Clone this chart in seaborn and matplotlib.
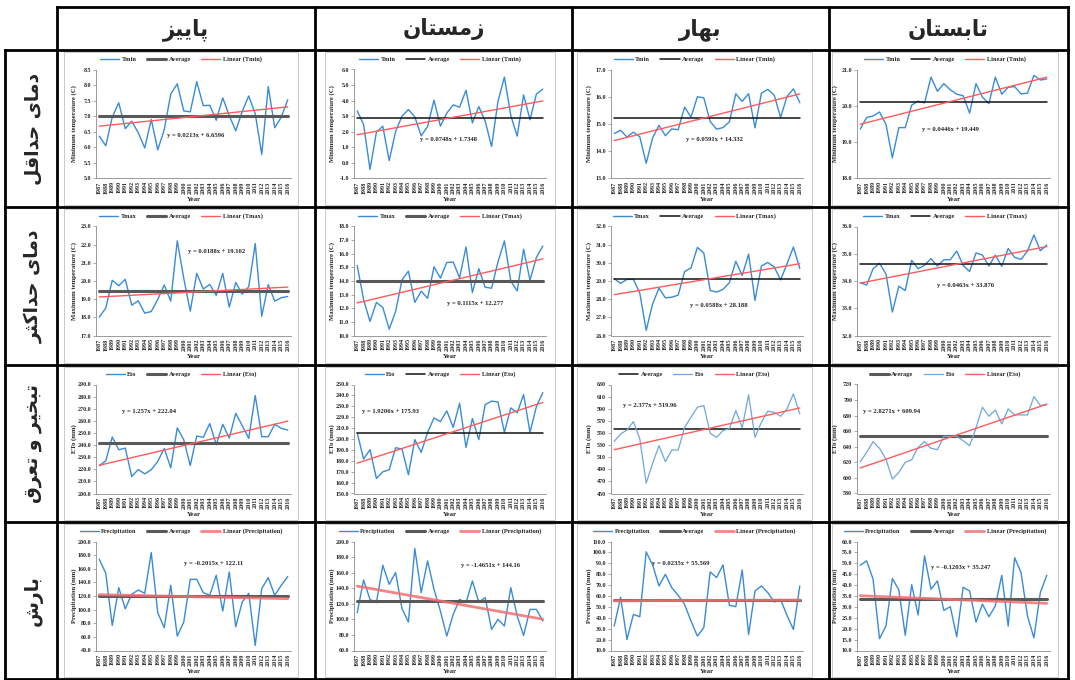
import numpy as np
import pandas as pd
import matplotlib
matplotlib.use("Agg")
import matplotlib.pyplot as plt
from matplotlib.lines import Line2D
from matplotlib.patches import Rectangle
from matplotlib.ticker import FormatStrFormatter
import seaborn as sns

# ---------------------------------------------------------------- data
YEARS = list(range(1987, 2017))

SEASONS = ["پاییز", "زمستان", "بهار", "تابستان"]
VARIABLES = ["دمای حداقل", "دمای حداکثر", "تبخیر و تعرق", "بارش"]

tmin_autumn = [6.36, 6.05, 6.97, 7.43, 6.60, 6.84, 6.47, 5.98, 6.90, 5.92,
               6.57, 7.71, 8.04, 7.17, 7.14, 8.11, 7.34, 7.35, 6.87, 7.59,
               7.02, 6.53, 7.16, 7.65, 7.08, 5.77, 7.95, 6.63, 6.97, 7.53]
tmin_winter = [3.34, 2.47, -0.42, 1.97, 2.36, 0.15, 2.02, 3.00, 3.43, 2.96,
               1.74, 2.34, 4.03, 2.36, 3.20, 3.73, 3.58, 4.67, 2.57, 3.62,
               2.68, 1.05, 3.97, 5.51, 3.04, 1.72, 4.37, 2.77, 4.42, 4.74]
tmin_spring = [14.65, 14.77, 14.52, 14.70, 14.53, 13.56, 14.49, 14.95, 14.57, 14.82,
               14.79, 15.62, 15.25, 16.00, 15.96, 15.09, 14.81, 14.87, 15.08, 16.11,
               15.83, 16.11, 14.86, 16.13, 16.27, 16.06, 15.24, 16.01, 16.29, 15.78]
tmin_summer = [19.36, 19.68, 19.72, 19.83, 19.49, 18.57, 19.40, 19.40, 20.02, 20.13,
               20.08, 20.79, 20.40, 20.61, 20.44, 20.32, 20.28, 19.80, 20.61, 20.24,
               20.06, 20.79, 20.32, 20.51, 20.53, 20.33, 20.35, 20.84, 20.71, 20.74]

tmax_autumn = [18.01, 18.51, 20.04, 19.74, 20.09, 18.67, 18.91, 18.23, 18.32, 18.99,
               19.78, 18.89, 22.21, 20.15, 18.34, 20.42, 19.56, 19.81, 19.21, 20.42,
               18.56, 19.92, 19.28, 19.69, 22.06, 18.06, 19.80, 18.89, 19.08, 19.15]
tmax_winter = [15.14, 12.63, 11.03, 12.43, 12.06, 10.46, 11.77, 14.08, 14.72, 12.43,
               13.25, 12.73, 15.04, 14.21, 15.36, 15.39, 14.23, 16.50, 13.15, 14.90,
               13.54, 13.47, 15.41, 16.94, 13.99, 13.27, 16.33, 14.06, 15.73, 16.57]
tmax_spring = [29.13, 28.87, 29.09, 29.09, 28.33, 26.28, 27.74, 28.61, 28.07, 28.11,
               28.22, 29.52, 29.72, 30.85, 30.54, 28.48, 28.39, 28.54, 28.91, 30.09,
               29.30, 30.48, 27.93, 29.83, 30.02, 29.78, 29.06, 29.94, 30.87, 29.69]
tmax_summer = [33.94, 33.85, 34.45, 34.65, 34.26, 32.86, 33.81, 33.65, 34.76, 34.45,
               34.58, 34.82, 34.55, 34.78, 34.78, 35.10, 34.57, 34.35, 35.03, 34.95,
               34.55, 34.95, 34.54, 35.19, 34.87, 34.79, 35.10, 35.69, 35.11, 35.32]

eto_autumn = [222.9, 227.0, 246.6, 236.1, 237.5, 214.0, 219.8, 216.2, 219.6, 226.5,
              237.2, 221.2, 254.1, 244.4, 223.1, 247.5, 246.4, 257.7, 240.3, 257.1,
              245.8, 266.2, 256.0, 245.5, 280.9, 246.9, 246.9, 257.1, 253.8, 252.4]
eto_winter = [205.5, 181.6, 190.2, 163.8, 169.9, 171.8, 192.0, 190.8, 167.2, 199.4,
              187.7, 206.1, 219.3, 216.0, 225.8, 210.7, 232.8, 192.3, 218.7, 199.4,
              231.6, 234.7, 234.0, 206.1, 228.5, 224.0, 240.8, 206.1, 229.8, 242.6]
eto_spring = [536.1, 548.3, 554.9, 568.7, 540.0, 467.1, 499.7, 529.0, 502.5, 521.8,
              521.8, 559.3, 575.9, 592.5, 595.2, 549.4, 542.8, 553.8, 557.1, 587.0,
              558.8, 612.9, 542.8, 567.6, 585.8, 584.2, 577.6, 589.7, 614.5, 581.4]
eto_summer = [620.8, 632.8, 646.6, 638.0, 624.2, 598.5, 607.1, 620.0, 623.4, 639.3,
              646.6, 638.0, 636.3, 653.4, 653.4, 653.4, 647.9, 641.4, 664.2, 690.8,
              679.2, 687.4, 669.3, 688.7, 680.9, 680.9, 680.9, 704.5, 693.0, 694.2]

precip_autumn = [174.0, 153.4, 76.8, 132.3, 101.3, 122.5, 128.8, 123.9, 183.8, 95.5,
                 73.4, 135.7, 61.1, 81.7, 144.5, 144.5, 124.9, 121.0, 150.4, 97.9,
                 155.3, 74.8, 111.2, 123.9, 47.4, 130.8, 147.0, 121.0, 135.7, 148.5]
precip_winter = [108.5, 150.6, 125.7, 121.4, 169.5, 145.0, 160.1, 113.7, 96.5, 191.0,
                 134.3, 175.1, 138.6, 110.7, 78.5, 106.4, 125.7, 121.4, 149.3, 122.3,
                 127.9, 87.1, 100.0, 91.4, 140.7, 104.2, 79.3, 112.8, 112.8, 97.8]
precip_spring = [32.4, 58.8, 20.1, 43.1, 41.0, 100.5, 88.5, 69.2, 79.9, 67.6,
                 60.6, 52.3, 37.0, 23.2, 30.9, 82.1, 76.9, 88.5, 51.4, 50.2,
                 83.9, 24.7, 64.6, 69.2, 63.1, 54.5, 56.9, 42.2, 29.3, 69.2]
precip_summer = [49.1, 51.1, 42.7, 15.4, 21.2, 43.0, 37.8, 17.0, 40.2, 26.3,
                 53.4, 38.1, 41.9, 28.4, 30.1, 16.3, 39.0, 37.3, 23.0, 31.3,
                 25.5, 30.4, 44.5, 21.2, 52.6, 45.7, 25.8, 15.8, 36.6, 44.5]

# long-term averages (autumn, winter, spring, summer)
tmin_avg = [7.0, 2.9, 15.21, 20.1]
tmax_avg = [19.45, 14.03, 29.11, 34.62]
eto_avg = [241.7, 205.5, 557.1, 654.3]
precip_avg = [120.5, 123.1, 56.2, 33.6]

# linear trend y = slope * x + intercept, x = 1..30
tmin_slope = [0.0213, 0.0748, 0.0591, 0.0446]
tmin_icpt = [6.6596, 1.7348, 14.332, 19.449]
tmax_slope = [0.0188, 0.1115, 0.0588, 0.0463]
tmax_icpt = [19.102, 12.277, 28.188, 33.876]
eto_slope = [1.257, 1.9206, 2.377, 2.8271]
eto_icpt = [222.04, 175.93, 519.96, 609.94]
precip_slope = [-0.2015, -1.4651, 0.0235, -0.1203]
precip_icpt = [122.11, 144.16, 55.569, 35.247]

# y-axis range and step per panel
tmin_yaxis = [(5.0, 8.5, 0.5), (-1.0, 6.0, 1.0), (13.0, 17.0, 1.0), (18.0, 21.0, 1.0)]
tmax_yaxis = [(17.0, 23.0, 1.0), (10.0, 18.0, 1.0), (26.0, 32.0, 1.0), (32.0, 36.0, 1.0)]
eto_yaxis = [(200.0, 290.0, 10.0), (150.0, 250.0, 10.0), (450.0, 630.0, 20.0), (580.0, 720.0, 20.0)]
precip_yaxis = [(40.0, 200.0, 20.0), (60.0, 200.0, 20.0), (10.0, 110.0, 10.0), (10.0, 60.0, 5.0)]

ROWS = [
    dict(name="Tmin", ylabel="Minimum temperature (C)",
         series=[tmin_autumn, tmin_winter, tmin_spring, tmin_summer],
         avg=tmin_avg, slope=tmin_slope, icpt=tmin_icpt, yaxis=tmin_yaxis),
    dict(name="Tmax", ylabel="Maximum temperature (C)",
         series=[tmax_autumn, tmax_winter, tmax_spring, tmax_summer],
         avg=tmax_avg, slope=tmax_slope, icpt=tmax_icpt, yaxis=tmax_yaxis),
    dict(name="Eto", ylabel="ETo (mm)",
         series=[eto_autumn, eto_winter, eto_spring, eto_summer],
         avg=eto_avg, slope=eto_slope, icpt=eto_icpt, yaxis=eto_yaxis),
    dict(name="Precipitation", ylabel="Precipitation (mm)",
         series=[precip_autumn, precip_winter, precip_spring, precip_summer],
         avg=precip_avg, slope=precip_slope, icpt=precip_icpt, yaxis=precip_yaxis),
]

# ---------------------------------------------------------------- Persian shaping
RIGHT_JOINING = set("ادذرزژو")
FORMS = {
    "ا": ("\uFE8D", "\uFE8E", None, None),
    "ب": ("\uFE8F", "\uFE90", "\uFE91", "\uFE92"),
    "پ": ("\uFB56", "\uFB57", "\uFB58", "\uFB59"),
    "ت": ("\uFE95", "\uFE96", "\uFE97", "\uFE98"),
    "ث": ("\uFE99", "\uFE9A", "\uFE9B", "\uFE9C"),
    "ح": ("\uFEA1", "\uFEA2", "\uFEA3", "\uFEA4"),
    "خ": ("\uFEA5", "\uFEA6", "\uFEA7", "\uFEA8"),
    "د": ("\uFEA9", "\uFEAA", None, None),
    "ر": ("\uFEAD", "\uFEAE", None, None),
    "ز": ("\uFEAF", "\uFEB0", None, None),
    "س": ("\uFEB1", "\uFEB2", "\uFEB3", "\uFEB4"),
    "ش": ("\uFEB5", "\uFEB6", "\uFEB7", "\uFEB8"),
    "ع": ("\uFEC9", "\uFECA", "\uFECB", "\uFECC"),
    "ق": ("\uFED5", "\uFED6", "\uFED7", "\uFED8"),
    "ک": ("\uFB8E", "\uFB8F", "\uFB90", "\uFB91"),
    "ل": ("\uFEDD", "\uFEDE", "\uFEDF", "\uFEE0"),
    "م": ("\uFEE1", "\uFEE2", "\uFEE3", "\uFEE4"),
    "ن": ("\uFEE5", "\uFEE6", "\uFEE7", "\uFEE8"),
    "ه": ("\uFEE9", "\uFEEA", "\uFEEB", "\uFEEC"),
    "و": ("\uFEED", "\uFEEE", None, None),
    "ی": ("\uFBFC", "\uFBFD", "\uFBFE", "\uFBFF"),
}


def shape_fa(text):
    """Contextual letter forms in visual (right-to-left) order."""
    out = []
    for i, ch in enumerate(text):
        if ch not in FORMS:
            out.append(ch)
            continue
        prev = text[i - 1] if i > 0 else None
        nxt = text[i + 1] if i + 1 < len(text) else None
        joins_prev = prev in FORMS and prev not in RIGHT_JOINING
        joins_next = ch not in RIGHT_JOINING and nxt in FORMS
        iso, fin, ini, med = FORMS[ch]
        if joins_prev and joins_next:
            out.append(med)
        elif joins_prev:
            out.append(fin)
        elif joins_next:
            out.append(ini)
        else:
            out.append(iso)
    return "".join(reversed(out))


# ---------------------------------------------------------------- styling
sns.set_style("white")
plt.rcParams["font.family"] = ["Liberation Serif", "DejaVu Serif"]
plt.rcParams["font.weight"] = "bold"
plt.rcParams["axes.labelweight"] = "bold"

W, H = 1075, 680
COL_EDGES = [57, 315, 572, 829, 1068]
ROW_EDGES = [50, 207, 365, 522, 679]
HEADER_TOP = 7
LABEL_LEFT = 5
FRAME_X = [(64, 298), (325, 555), (577, 812), (832, 1058)]
PLOT_X = [(96, 291), (354, 546), (611, 803), (857, 1050)]
EQ_POS = [
    [(196, 135), (448, 139), (715, 139), (950, 130)],
    [(217, 252), (475, 304), (719, 305), (966, 285)],
    [(149, 411), (391, 411), (650, 406), (892, 411)],
    [(214, 563), (491, 566), (681, 563), (961, 568)],
]
THICK_AVG = [[1, 0, 0, 0], [1, 1, 0, 0], [1, 0, 0, 1], [1, 1, 1, 1]]
BLUE = "#3A8BD6"
BLUE_LIGHT = "#6FA6DC"
RED = "#FF5B5B"
SMALL = 4.3

fig = plt.figure(figsize=(W / 100, H / 100), dpi=100)
fig.patch.set_facecolor("white")


def fx(px):
    return px / W


def fy(py):
    return 1 - py / H


def table_line(x0, y0, x1, y1):
    fig.add_artist(Line2D([fx(x0), fx(x1)], [fy(y0), fy(y1)], transform=fig.transFigure,
                          color="black", lw=2.0, solid_capstyle="projecting", zorder=10))


# table grid
table_line(COL_EDGES[0], HEADER_TOP, COL_EDGES[-1], HEADER_TOP)
for y in ROW_EDGES:
    table_line(LABEL_LEFT, y, COL_EDGES[-1], y)
table_line(LABEL_LEFT, ROW_EDGES[0], LABEL_LEFT, ROW_EDGES[-1])
for x in COL_EDGES:
    table_line(x, HEADER_TOP, x, ROW_EDGES[-1])

# headers
for c, season in enumerate(SEASONS):
    cx = (COL_EDGES[c] + COL_EDGES[c + 1]) / 2
    fig.text(fx(cx), fy((HEADER_TOP + ROW_EDGES[0]) / 2 + 1), shape_fa(season),
             family="DejaVu Sans", weight="bold", fontsize=15.5, ha="center", va="center")
for r, var in enumerate(VARIABLES):
    cy = (ROW_EDGES[r] + ROW_EDGES[r + 1]) / 2
    fig.text(fx(33), fy(cy), shape_fa(var), family="DejaVu Sans", weight="bold",
             fontsize=13.5, rotation=90, ha="center", va="center")

x_idx = np.arange(1, len(YEARS) + 1)

for r, row in enumerate(ROWS):
    top = ROW_EDGES[r]
    bottom = ROW_EDGES[r + 1]
    name = row["name"]
    for c in range(4):
        # chart frame
        f0, f1 = FRAME_X[c]
        fig.add_artist(Rectangle((fx(f0), fy(bottom - 2)), fx(f1) - fx(f0), fy(top + 2) - fy(bottom - 2),
                                 transform=fig.transFigure, facecolor="white",
                                 edgecolor="#C9C9C9", lw=0.7, zorder=0))
        x0, x1 = PLOT_X[c]
        y0, y1 = top + 19.5, top + 128.5
        ax = fig.add_axes([fx(x0), fy(y1), fx(x1) - fx(x0), fy(y0) - fy(y1)])
        ax.set_facecolor("none")

        df = pd.DataFrame({
            "Year": YEARS,
            name: row["series"][c],
            "Average": row["avg"][c],
            "Linear": row["slope"][c] * x_idx + row["icpt"][c],
        })
        avg_first = (r == 2 and c >= 2)
        avg_kw = (dict(color="#595959", lw=2.2) if THICK_AVG[r][c]
                  else dict(color="#111111", lw=1.1))
        blue_kw = (dict(color=BLUE_LIGHT, lw=0.9) if avg_first else dict(color=BLUE, lw=1.0))
        red_kw = (dict(color="#F07070", lw=2.0, alpha=0.85) if r == 3
                  else dict(color=RED, lw=1.0))
        if avg_first:
            sns.lineplot(data=df, x="Year", y="Average", ax=ax, label="Average", **avg_kw)
            sns.lineplot(data=df, x="Year", y=name, ax=ax, label=name, **blue_kw)
        else:
            sns.lineplot(data=df, x="Year", y=name, ax=ax, label=name, **blue_kw)
            sns.lineplot(data=df, x="Year", y="Average", ax=ax, label="Average", **avg_kw)
        sns.lineplot(data=df, x="Year", y="Linear", ax=ax, label=f"Linear ({name})", **red_kw)

        handles, labels = ax.get_legend_handles_labels()
        ax.legend(handles, labels, loc="center", ncol=3, frameon=False,
                  bbox_to_anchor=(fx((f0 + f1) / 2), fy(top + 9.5)), bbox_transform=fig.transFigure,
                  prop=dict(family="Liberation Serif", weight="bold", size=4.6),
                  handlelength=3.0, handletextpad=0.4, columnspacing=1.6, borderpad=0)

        # axes
        lo, hi, step = row["yaxis"][c]
        ax.set_xlim(YEARS[0] - 0.5, YEARS[-1] + 0.5)
        ax.set_ylim(lo, hi)
        ax.set_yticks(np.arange(lo, hi + step / 2, step))
        ax.yaxis.set_major_formatter(FormatStrFormatter("%.0f" if avg_first else "%.1f"))
        ax.set_xticks(YEARS)
        ax.set_xticklabels([str(y) for y in YEARS], rotation=90)
        ax.set_xticks(np.arange(YEARS[0] - 0.5, YEARS[-1] + 1, 1), minor=True)
        ax.tick_params(axis="x", which="major", length=0, pad=2, labelsize=4.4)
        ax.tick_params(axis="x", which="minor", length=2, width=0.5, color="#888888")
        ax.tick_params(axis="y", which="major", left=True, length=2, width=0.5, pad=1.5,
                       labelsize=SMALL, color="#888888")
        for s in ("top", "right"):
            ax.spines[s].set_visible(False)
        for s in ("left", "bottom"):
            ax.spines[s].set_color("#8A8A8A")
            ax.spines[s].set_linewidth(0.6)
        ax.set_xlabel("Year", fontsize=5, fontweight="bold")
        ax.xaxis.set_label_coords(0.5, -(147 - 128.5) / 109)
        ax.set_ylabel(row["ylabel"], fontsize=4.8, fontweight="bold")
        ax.yaxis.set_label_coords(-19 / (x1 - x0), 0.5)

        slope, icpt = row["slope"][c], row["icpt"][c]
        eq = f"y = {slope}x + {icpt}"
        ex, ey = EQ_POS[r][c]
        fig.text(fx(ex), fy(ey), eq, fontsize=4.8, weight="bold", ha="center", va="center",
                 family="Liberation Serif")

fig.savefig("out.png", dpi=100, facecolor="white")
